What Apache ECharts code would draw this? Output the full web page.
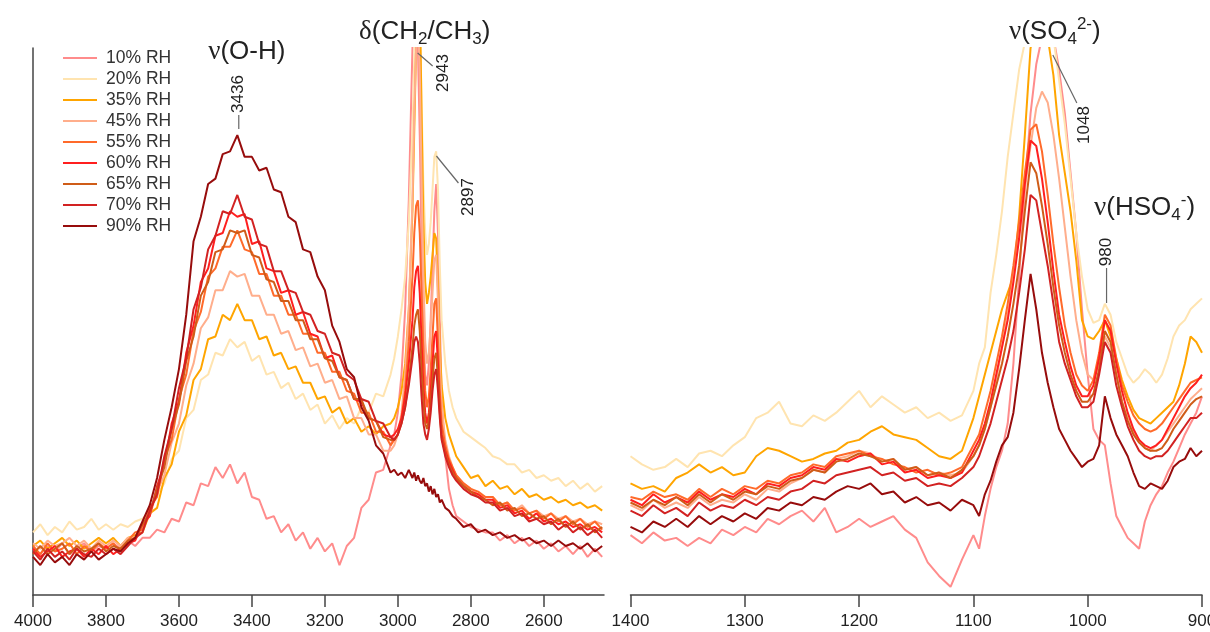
<!DOCTYPE html>
<html>
<head>
<meta charset="utf-8">
<script src="https://cdn.jsdelivr.net/npm/echarts@6/dist/echarts.min.js"></script>
<style>
  html, body { margin: 0; padding: 0; background: #ffffff; }
  #chart { width: 1210px; height: 632px; }
</style>
</head>
<body>
<div id="chart"></div>
<script>
// Relative humidity of each spectrum
const humidity = ['10% RH', '20% RH', '35% RH', '45% RH', '55% RH', '60% RH', '65% RH', '70% RH', '90% RH'];

// Wavenumber ticks (cm-1)
const highTicks = [4000, 3800, 3600, 3400, 3200, 3000, 2800, 2600];
const lowTicks = [1400, 1300, 1200, 1100, 1000, 900];

// Peak positions (cm-1)
const peakOH = 3436;
const peakCH1 = 2943;
const peakCH2 = 2897;
const peakSO4 = 1048;
const peakHSO4 = 980;

// High-wavenumber region: sample positions (cm-1)
const wnHigh = [
  4000,3980,3960,3940,3920,3900,3880,3860,3840,3820,
  3800,3780,3760,3740,3720,3700,3680,3660,3640,3620,
  3600,3580,3560,3540,3520,3500,3480,3460,3440,3420,
  3400,3380,3360,3340,3320,3300,3280,3260,3240,3220,
  3200,3180,3160,3140,3120,3100,3080,3060,3040,3020,
  3010,3000,2990,2980,2970,2960,2955,2950,2945,2940,
  2935,2930,2925,2920,2915,2910,2905,2900,2895,2890,
  2885,2880,2870,2860,2850,2840,2820,2800,2780,2760,
  2740,2720,2700,2680,2660,2640,2620,2600,2580,2560,
  2540,2520,2500,2480,2460,2440
];

// Absorbance (arb. units) in the high-wavenumber region
const hi10 = [
  8,7,8.5,7.5,9,7,8,9,7.5,8.5,
  8,9,8,9.5,8.5,10,10,11.5,11,13.5,
  13,16.5,16,20,19.5,23,21,23.5,20,22,
  17.5,17,13.5,14,11,12.5,9.5,11,8,10,
  7.5,9,5,8.5,10,15.5,17,22,22.5,27,
  29,33,40,52,72,100,112,110,100,84,
  64,48,40,38,42,50,60,70,75,66,
  50,36,25,19,16,14,13,12,11.5,11,
  11,9.5,10.5,9,10,8.5,9.5,8,9,7.5,
  8.5,7,8.5,6.5,8,6.5
];
const hi20 = [
  11,12.5,10.5,12,11,13,11.5,12,13.5,11.5,
  12.5,11.5,12.5,12,13,13.5,15,18,20,24.5,
  26,32,33.5,39,40,44,43.5,46.5,45,46,
  42.5,43.5,40,40.5,37.5,38.5,35.5,36.5,33.5,34.5,
  31,32.5,30,32,31,34,33,36.5,36,40,
  43,47,52,58,68,85,98,110,115,108,
  90,75,66,62,64,68,74,80,81,74,
  60,50,42,37,34,32,29.5,28.5,27.5,26.5,
  25,24.5,23.5,23.5,22,22.5,21,21.5,20.5,21,
  19.5,20.5,19,20,18.5,19.5
];
const hi35 = [
  8.5,9.5,8,9,10,8.5,9.5,8,9,10,
  9,10,8.5,10,10.5,11,14.5,15.5,21,23.5,
  29.5,32.5,39,41,46.5,47,51,50,53,50,
  50,46.5,47,43.5,44,41,41.5,38.5,38.5,35.5,
  36,33,34,31,32,29.5,30.5,29,30.5,31,
  32,34,37,42,52,70,85,100,112,110,
  88,68,57,53,55,58,62,66,65,56,
  45,38,32,29,27,25,23,21,21.5,19.5,
  20.5,19,19.5,18,19,17.5,18,17,17.5,16.5,
  17,16,16.5,15.5,16,15
];
const hi45 = [
  9,8,9.5,8.5,9,10,8.5,9.5,8,9.5,
  8.5,9.5,8.5,10,10,12.5,14,18.5,21.5,27.5,
  31,38,42,48.5,50.5,55.5,55.5,59,58,58.5,
  54.5,54.5,51,51,47.5,48,44.5,45,41.5,42,
  38.5,39,35.5,36,32,32,29,29,26,26,
  27,29,33,40,52,72,88,100,104,96,
  76,58,46,42,44,49,55,61,62,53,
  42,34,28,25,23,21.5,20,19,18,17.5,
  17.5,16,16.5,15,16,14.5,15,14,14.5,13.5,
  14,13,13.5,12.5,13,12.5
];
const hi55 = [
  8.5,7,9,7.5,8,9,7,8.5,7.5,9,
  8,9,7.5,9.5,11,11.5,15.5,17.5,24.5,28,
  35.5,40,48,51.5,58,59.5,63.5,63.5,66.5,63,
  62.5,58.5,58.5,54.5,54.5,51,51,47.5,47.5,44,
  44,40.5,40.5,37,36.5,33,33,29.5,29.5,27,
  28,29,32,37,46,58,66,71,72,66,
  55,44,37,34,36,41,47,53,54,46,
  37,31,27,24.5,23,21.5,20,19,18.5,17.5,
  17.5,16,16.5,15,15.5,14.5,15,13.5,14.5,13,
  14,12.5,13.5,12,13,11.5
];
const hi60 = [
  8,6.5,7.5,8.5,6.5,7.5,8,6.5,8,7,
  8.5,7,8,9,9.5,12.5,14,19.5,23.5,31,
  35,44,49,57,59.5,65.5,66,70,69,69.5,
  64,64.5,59.5,59,55,55.5,51,51.5,47.5,47,
  43,43.5,39.5,39,35.5,35,32,31.5,29,28.5,
  29,30,32,36,42,50,56,59,60,55,
  46,38,33,31,33,37,42,47,48,42,
  34,29,26,24,22.5,21,19.5,18.5,18,17,
  17,15.5,16,14.5,15,13.5,14.5,13,13.5,12.5,
  13,12,12.5,11.5,12,11
];
const hi65 = [
  7,8.5,7,8,9,7,8.5,7.5,8,9,
  7.5,8.5,8,9.5,10,12.5,14.5,19,23,30,
  34.5,42.5,47,54.5,57,62.5,63,66.5,66,66.5,
  62,61.5,57.5,57,53.5,53.5,50,50,46.5,46.5,
  43,42.5,39.5,39,35.5,35.5,32,31.5,28.5,28,
  28,29,31,34,39,45,49,51,52,48,
  41,35,31,30,31.5,35,39,43,44,39,
  33,28.5,25.5,23.5,22,21,19.5,18.5,17.5,17,
  16,16.5,15,15.5,14,14.5,13.5,14,12.5,13.5,
  12,13,11.5,12.5,11,12
];
const hi70 = [
  7.5,6,8,6.5,7.5,6,8,7,6.5,8,
  7,8,7,8.5,10,11,15,18,25,30,
  37.5,43,52,56,63,65.5,70,69.5,73,69,
  68.5,64,63.5,59,59,55.5,55,51.5,51,48,
  47.5,44,43.5,40,39,35.5,35,31.5,31,28.5,
  28,29,31,34,38,43,46,47,46,42,
  36,31,29,28,30,33,37,40,41,37,
  32,28,25,23,21.5,20.5,19,18,17.5,16.5,
  16.5,15,15.5,14,14.5,13,13.5,12.5,13,11.5,
  12.5,11,12,10.5,11.5,10
];
const hi90 = [
  6.5,5,7,5.5,6.5,5,7,6,7.5,6,
  7,8,7.5,9,10,13,16,21,28,34,
  41,51,64.5,69,75,76,80.5,81,84,80,
  80,77.5,78,74,73.5,69,68,63,62.5,58,
  55.5,49,46,41,39.5,34,31.5,27,25.5,22,
  22.5,21.5,22,21,22.5,21,22,20.5,21.5,20.5,
  20,21,19.5,20,18.5,19.5,18,19,17.5,18,
  16.5,17,15.5,15,14,13.5,12,12.5,11,11.5,
  10.5,11,10,10.5,9.5,10,9,9.5,8.5,9.5,
  8.5,9,8,9,7.5,8.5
];

// Low-wavenumber region: sample positions (cm-1)
const wnLow = [
  1400,1390,1380,1370,1360,1350,1340,1330,1320,1310,
  1300,1290,1280,1270,1260,1250,1240,1230,1220,1210,
  1200,1190,1180,1170,1160,1150,1140,1130,1120,1110,
  1100,1095,1090,1085,1080,1075,1070,1065,1060,1055,
  1050,1045,1040,1035,1030,1025,1020,1015,1010,1005,
  1000,995,990,985,980,975,970,965,960,955,
  950,945,940,935,930,925,920,915,910,905,900
];

// Absorbance (arb. units) in the low-wavenumber region
const lo10 = [
  10.5,9,11,9.5,10,8.5,10,9,11.5,10.5,
  12,11,13.5,12.5,14,15,13,15.5,11,12,
  13.5,12,13,14,11.5,10,5.5,3,1,6,
  10.5,8,14,19,23,26,31,42,58,74,
  88,97,102,105,102,96,88,77,66,52,
  40,30,28,27,20,14,12,10,9,8,
  13,16,18,19.5,22,24,26.5,29,31,33,36
];
const lo20 = [
  25,23.5,22.5,23,24.5,23,25.5,26,25,27,
  28.5,32,33,35,31,30.5,32.5,31.5,33,35,
  37,34,36,34.5,33,34,32,33,31.5,32.5,
  37,42,45,55,62,70,80,88,96,101,
  104,106,103,105,102,94,86,76,66,58,
  52,49.5,50,53,51,46,43,40,38.5,39.5,
  41,40,38.5,40,43,47,49,50,52,53,54
];
const lo35 = [
  20,19,19.5,18.5,21,22,23.5,22,23,21.5,
  22,25,26.5,26,25,24,24.5,25.5,26,27.5,
  28,29.5,30.5,29,28.5,28,26.5,25,24.5,26,
  32,36,40,44,48,52,55,58,69,84,
  100,104,103,102,95,84,77,70,61,50,
  47,46.5,48,50,47,43,39,36,33.5,32,
  31.5,31,32,33,34,35,38,42,47,46,44
];
const lo45 = [
  16,15,17,15.5,16.5,15.5,17.5,16,17,16.5,
  18,17,19,18.5,20,21,22.5,22,24.5,25,
  26,25.5,24,24.5,22.5,23,21.5,22,21.5,22,
  25,27,30,34,39,45,51,58,66,74,
  82,89,92,90,84,76,67,58,50,44,
  40,39,42,47,45,40,35,32,29.5,28,
  26.5,26,27,28,29.5,31,32.5,34,35.5,36.5,37.5
];
const lo55 = [
  17.5,17,18.5,17.5,18,17,19,17.5,19,18,
  19.5,19,20.5,20,21.5,22,23.5,23,25,25.5,
  26,25,24.5,23.5,23,22,22.5,21.5,22,23,
  27,29,33,37,42,47,53,60,68,77,
  85,86,81,73,64,56,49,44,40,38,
  37,39,44,51,49,43,38,35,32.5,31,
  30,29.5,30,31,32.5,34,35.5,37,38.5,39,39.5
];
const lo60 = [
  17,16,18,16.5,17.5,16.5,18.5,17,18,17.5,
  19,18,20,19.5,21,21.5,23,22.5,24.5,24,
  25,25.5,23.5,24,22,22.5,21,21.5,21,22,
  26,28,31,35,40,45,50,57,65,75,
  83,82,76,68,59,51,46,41.5,38,36,
  36,38,43,50,48,42,37,33,30,28,
  27,26.5,27,28,30,32,34,36,37.5,38.5,40
];
const lo65 = [
  16.5,15.5,17,16,17.5,16,18,16.5,18,17,
  18.5,18,19.5,19,20.5,21,22.5,22,24,24.5,
  25.5,25,24,24.5,22.5,23,21.5,22,21,22.5,
  25,27,30,34,38,42,47,53,60,70,
  79,77,71,64,56,49,44,40,37,35,
  35,36.5,41,48,46,40,35,31.5,29,27.5,
  26.5,26,26,26.5,28,30,31.5,33,34.5,35.5,36
];
const lo70 = [
  15,14,16,14.5,15.5,14,16.5,15,16,15.5,
  17,16,17.5,17,18.5,19,20.5,20,21.5,22,
  22.5,23,21.5,22,20.5,21,19.5,20,19.5,21,
  23,25,28,31,35,39,43,48,55,63,
  73,72,66,60,53,46,42,39,36,34,
  34,35,40,46,44,38,34,30.5,28,26,
  25,24.5,25,25,26,27.5,29,30.5,32,32,33
];
const lo90 = [
  12,11,13,12,13.5,12,14,12.5,14,13,
  14.5,13.5,15.5,15,16.5,16,17.5,17,18.5,19.5,
  19,20,18,18.5,16.5,17.5,16,16.5,15,17,
  16,14,18,20.5,24,27,28.5,33,41,50,
  58.5,52,44,38.5,34,30,28,26,24.5,23,
  24,24.5,27,36,32,29,27,25,22,19.5,
  19,20,19.5,19,20.5,23,24,24.5,26.5,25,26
];

const highSets = [hi10, hi20, hi35, hi45, hi55, hi60, hi65, hi70, hi90];
const lowSets = [lo10, lo20, lo35, lo45, lo55, lo60, lo65, lo70, lo90];
const lineColors = ['#ff8c8c', '#ffe4b0', '#ffa500', '#ffae8c', '#ff6a2a', '#ff1f1f', '#cf5c18', '#d22222', '#970c0c'];

const FONT = '"Liberation Sans", Arial, sans-serif';
const SERIF = '"Liberation Serif", "DejaVu Serif", serif';
const INK = '#222222';
const AXIS = '#444444';

const chart = echarts.init(document.getElementById('chart'), null, { renderer: 'canvas' });

const series = [];
humidity.forEach((name, k) => {
  [[0, wnHigh, highSets[k]], [1, wnLow, lowSets[k]]].forEach(([ax, xs, ys]) => {
    series.push({
      name: name,
      type: 'line',
      xAxisIndex: ax,
      yAxisIndex: ax,
      data: xs.map((w, i) => [w, ys[i]]),
      showSymbol: false,
      symbol: 'none',
      clip: true,
      z: 2 + k,
      lineStyle: { width: 2, color: lineColors[k] },
      itemStyle: { color: lineColors[k] },
      emphasis: { disabled: true }
    });
  });
});

function xAxisCfg(grid, min, max, ticks) {
  return {
    gridIndex: grid,
    type: 'value',
    inverse: true,
    min: min,
    max: max,
    axisLine: { show: true, onZero: false, lineStyle: { color: AXIS, width: 1.5 } },
    axisTick: { show: true, length: 12, customValues: ticks, lineStyle: { color: AXIS, width: 1.5 } },
    axisLabel: {
      customValues: ticks, fontSize: 17, color: INK, margin: 18, fontFamily: FONT,
      formatter: (v) => String(v)
    },
    splitLine: { show: false }
  };
}

chart.setOption({
  animation: false,
  backgroundColor: '#ffffff',
  grid: [
    { left: 33, top: 48, width: 571, height: 547, outerBoundsMode: 'none' },
    { left: 630.5, top: 48, width: 571.5, height: 547, outerBoundsMode: 'none' }
  ],
  xAxis: [
    xAxisCfg(0, 2435, 4000, highTicks),
    xAxisCfg(1, 900, 1400, lowTicks)
  ],
  yAxis: [
    { gridIndex: 0, type: 'value', min: -0.5, max: 100,
      axisLine: { show: true, lineStyle: { color: AXIS, width: 1.5 } },
      axisTick: { show: false }, axisLabel: { show: false }, splitLine: { show: false } },
    { gridIndex: 1, type: 'value', min: -0.5, max: 100, show: false }
  ],
  legend: {
    data: humidity,
    orient: 'vertical',
    left: 58,
    top: 44,
    icon: 'rect',
    itemWidth: 34,
    itemHeight: 2,
    itemGap: 3,
    selectedMode: false,
    textStyle: { fontSize: 17.5, color: '#333333', fontFamily: FONT, lineHeight: 18, padding: [0, 0, 0, 4] }
  },
  series: series
});

// Peak annotations placed at the wavenumbers they name
const px = (grid, wn) => chart.convertToPixel({ gridIndex: grid }, [wn, 0])[0];
const richBase = {
  g: { fontFamily: SERIF, fontSize: 27, lineHeight: 32 },
  sub: { fontSize: 17, lineHeight: 17, verticalAlign: 'bottom', fontFamily: FONT },
  sup: { fontSize: 17, lineHeight: 17, verticalAlign: 'top', fontFamily: FONT }
};
function bandText(x, y, text) {
  return {
    type: 'text', x: x, y: y, z: 100,
    style: {
      text: text, rich: richBase, fill: INK, fontSize: 26, fontFamily: FONT, lineHeight: 32,
      align: 'center', verticalAlign: 'middle', textAlign: 'center', textVerticalAlign: 'middle'
    }
  };
}
function peakText(x, y, value) {
  return {
    type: 'text', x: x, y: y, rotation: Math.PI / 2, z: 100,
    style: {
      text: String(value), fill: INK, fontSize: 17, fontFamily: FONT,
      align: 'center', verticalAlign: 'middle', textAlign: 'center', textVerticalAlign: 'middle'
    }
  };
}
function leader(x1, y1, x2, y2) {
  return { type: 'line', z: 100, shape: { x1: x1, y1: y1, x2: x2, y2: y2 }, style: { stroke: '#666666', lineWidth: 1.2 } };
}

const xOH = px(0, peakOH);
const xCH1 = px(0, peakCH1);
const xCH2 = px(0, peakCH2);
const xSO4 = px(1, peakSO4);
const xHSO4 = px(1, peakHSO4);

chart.setOption({
  graphic: [
    bandText(xOH + 8, 52, '{g|ν}(O-H)'),
    bandText(xCH1 + 6, 32, '{g|δ}(CH{sub|2}/CH{sub|3})'),
    bandText(xSO4 + 22, 32, '{g|ν}(SO{sub|4}{sup|2-})'),
    bandText(xHSO4 + 34, 208, '{g|ν}(HSO{sub|4}{sup|-})'),

    peakText(xOH, 94, peakOH),
    leader(xOH, 115, xOH, 129),

    peakText(xCH1 + 25, 73, peakCH1),
    leader(xCH1 - 1, 53, xCH1 + 14, 66),

    peakText(xCH2 + 33, 197, peakCH2),
    leader(xCH2 + 1, 156, xCH2 + 23, 183),

    peakText(xSO4 + 51, 125, peakSO4),
    leader(xSO4 + 20, 55, xSO4 + 44, 103),

    peakText(xHSO4 - 4, 252, peakHSO4),
    leader(xHSO4 - 4, 268, xHSO4 - 4, 303)
  ]
});
</script>
</body>
</html>
